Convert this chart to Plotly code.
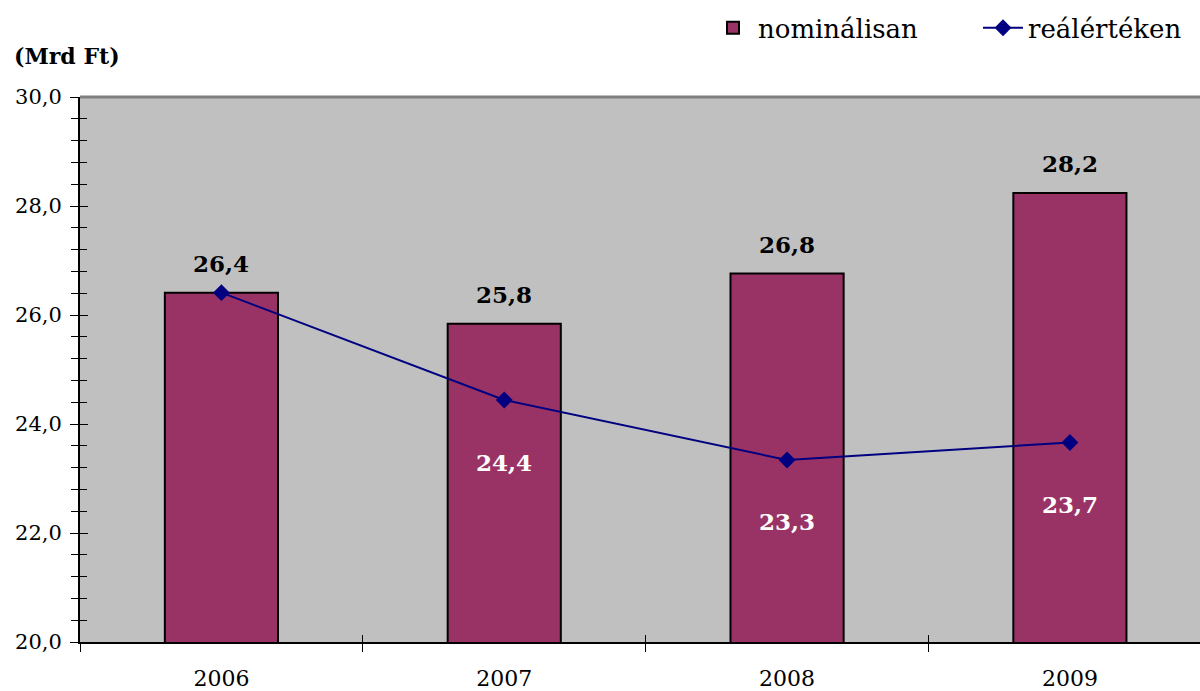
import plotly.graph_objects as go

years = ["2006", "2007", "2008", "2009"]
nominal = [26.41, 25.84, 26.76, 28.24]
real = [26.41, 24.44, 23.34, 23.66]
nominal_name = "nominálisan"
real_name = "reálértéken"
unit_label = "(Mrd Ft)"

FONT = "DejaVu Serif"
BAR = "#993366"
LINE = "#000080"


def fmt(v):
    return f"{v:.1f}".replace(".", ",")


fig = go.Figure()
fig.add_trace(go.Bar(
    x=years, y=nominal, name=nominal_name, width=0.4,
    marker=dict(color=BAR, line=dict(color="black", width=2)),
    xaxis="x", yaxis="y",
))
fig.add_trace(go.Scatter(
    x=years, y=real, name=real_name, mode="lines+markers",
    line=dict(color=LINE, width=2),
    marker=dict(symbol="diamond", size=13, color=LINE),
    xaxis="x2", yaxis="y2",
))

for i, v in enumerate(nominal):
    fig.add_annotation(x=i, y=v, xref="x", yref="y", text=f"<b>{fmt(v)}</b>",
                       showarrow=False, yanchor="middle", yshift=29,
                       font=dict(family=FONT, size=23, color="black"))
for i, v in list(enumerate(real))[1:]:
    fig.add_annotation(x=i, y=v, xref="x", yref="y", text=f"<b>{fmt(v)}</b>",
                       showarrow=False, yanchor="middle", yshift=-62,
                       font=dict(family=FONT, size=23, color="white"))

fig.add_annotation(x=-68 / 1120, y=1, xref="paper", yref="paper", xanchor="left",
                   yanchor="middle", yshift=41, text=f"<b>{unit_label}</b>",
                   showarrow=False, font=dict(family=FONT, size=22, color="black"))

# top border of plot area
fig.add_shape(type="line", xref="paper", yref="paper", x0=0, x1=1, y0=1, y1=1,
              line=dict(color="#808080", width=3))

fig.update_layout(
    width=1200, height=691,
    margin=dict(l=80, r=0, t=97, b=49, autoexpand=False),
    paper_bgcolor="white", plot_bgcolor="#C0C0C0",
    separators=",.",
    font=dict(family=FONT, size=22, color="black"),
    showlegend=True,
    legend=dict(orientation="h", x=(708 - 80) / 1120, xanchor="left", y=1.127,
                yanchor="middle", font=dict(family=FONT, size=26),
                bgcolor="rgba(0,0,0,0)", itemwidth=40, entrywidth=215,
                traceorder="normal"),
    xaxis=dict(type="category", range=[-0.5, 3.46], showline=True, linecolor="black",
               linewidth=2, ticks="outside", ticklen=8, tickwidth=1, tickcolor="black",
               tickson="boundaries", showgrid=False, tickfont=dict(size=22),
               ticklabelstandoff=16),
    xaxis2=dict(type="category", range=[-0.5, 3.46], overlaying="x", anchor="y",
                showline=False, ticks="inside", ticklen=7, tickwidth=1,
                tickcolor="black", tickson="boundaries", showgrid=False,
                showticklabels=False, matches="x"),
    yaxis=dict(range=[20, 30], dtick=2, tickformat=".1f", showline=True,
               linecolor="black", linewidth=2, ticks="outside", ticklen=8,
               tickwidth=1, tickcolor="black", showgrid=False, zeroline=False,
               minor=dict(dtick=0.4, ticks="outside", ticklen=7, tickcolor="black"),
               tickfont=dict(size=21), ticklabelstandoff=4),
    yaxis2=dict(range=[20, 30], overlaying="y", anchor="x", side="left",
                showline=False, ticks="inside", ticklen=8, tickwidth=1, dtick=2,
                tickcolor="black", showgrid=False, zeroline=False,
                showticklabels=False,
                minor=dict(dtick=0.4, ticks="inside", ticklen=7, tickcolor="black")),
)

fig.write_html("out.html", config={"displayModeBar": False},
               post_script="document.body.style.margin='0';")
